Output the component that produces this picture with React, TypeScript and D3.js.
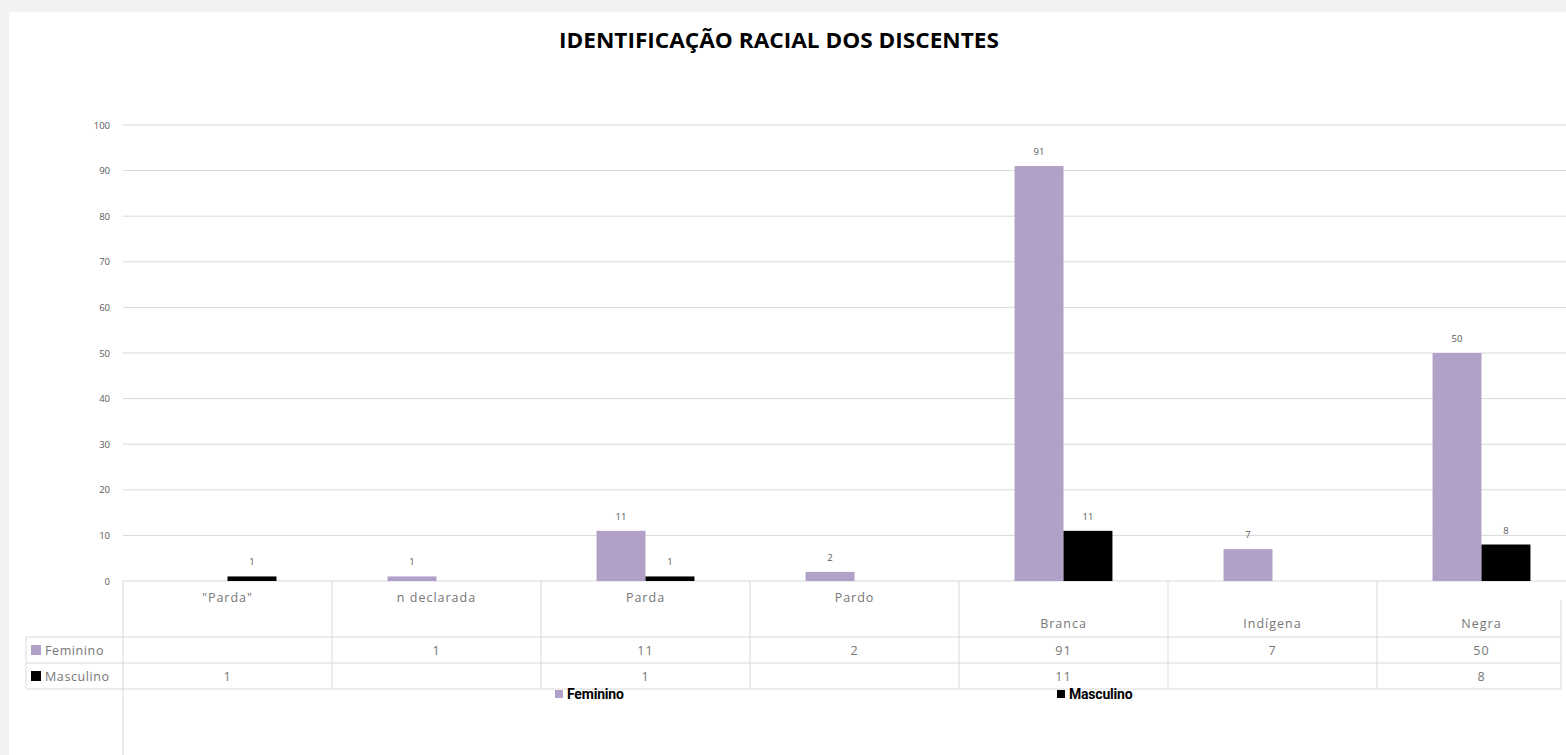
import React from "react";
import * as d3 from "d3";

const categories = ['"Parda"', "n declarada", "Parda", "Pardo", "Branca", "Indígena", "Negra"];
const labelLow = [false, false, false, false, true, true, true];
const seriesNames = ["Feminino", "Masculino"];
const feminino: (number | null)[] = [null, 1, 11, 2, 91, 7, 50];
const masculino: (number | null)[] = [1, null, 1, null, 11, null, 8];
const yTicks = [0, 10, 20, 30, 40, 50, 60, 70, 80, 90, 100];
const title = "IDENTIFICAÇÃO RACIAL DOS DISCENTES";

const colors = ["#b1a0c7", "#000000"];
const W = 1566, H = 755;
const x0 = 123, colW = 209;
const yTop = 125, yBase = 581;
const grid = "#d9d9d9";
const txt = "#595959";
const tableTxt = "#767676";
const font = "'Open Sans', 'DejaVu Sans', sans-serif";

export default function App() {
  const x = d3.scaleBand<string>().domain(categories).range([x0, x0 + colW * categories.length]).padding(0);
  const xs = d3.scaleBand<string>().domain(seriesNames).range([0, x.bandwidth()]).paddingInner(0).paddingOuter(1.135);
  const y = d3.scaleLinear().domain([0, 100]).range([yBase, yTop]);
  const series = [feminino, masculino];
  const rowTop = 637, rowH = 26;
  const tableLeft = 26, tableRight = 1561;

  return (
    <svg width={W} height={H} style={{ position: "absolute", left: 0, top: 0, background: "#f2f2f2" }}>
      <rect x={9} y={12} width={W - 9} height={H - 12} fill="#ffffff" />
      <text x={779} y={47.5} textAnchor="middle" fontFamily={font} fontWeight={700} fontSize={21} fill="#000" textLength={440} lengthAdjust="spacingAndGlyphs">{title}</text>
      {yTicks.map((t) => (
        <g key={t}>
          <line x1={x0} x2={W} y1={y(t)} y2={y(t)} stroke={grid} strokeWidth={1} />
          <text x={110} y={y(t) + 3.5} textAnchor="end" fontFamily={font} fontSize={9.5} fill={txt}>{t}</text>
        </g>
      ))}
      {series.map((vals, si) =>
        vals.map((v, ci) => {
          if (v == null) return null;
          const bx = (x(categories[ci]) as number) + (xs(seriesNames[si]) as number);
          return (
            <g key={`${si}-${ci}`}>
              <rect x={bx} y={y(v)} width={xs.bandwidth()} height={yBase - y(v)} fill={colors[si]} />
              <text x={bx + xs.bandwidth() / 2} y={y(v) - 11} textAnchor="middle" fontFamily={font} fontSize={9.5} fill={txt}>{v}</text>
            </g>
          );
        })
      )}
      <line x1={x0} x2={x0} y1={yBase} y2={H} stroke={grid} />
      {categories.map((c, i) => {
        const cx = (x(c) as number) + x.bandwidth() / 2;
        const right = (x(c) as number) + x.bandwidth();
        return (
          <g key={c}>
            {i < categories.length - 1 && <line x1={right} x2={right} y1={yBase} y2={rowTop + 2 * rowH} stroke={grid} />}
            <text x={cx} y={labelLow[i] ? 627.5 : 601.5} textAnchor="middle" fontFamily={font} fontSize={12.5} letterSpacing={1} fill={tableTxt}>{c}</text>
            {series.map((vals, si) =>
              vals[i] == null ? null : (
                <text key={si} x={cx} y={rowTop + si * rowH + 18} textAnchor="middle" fontFamily={font} fontSize={12.5} letterSpacing={1} fill={tableTxt}>{vals[i]}</text>
              )
            )}
          </g>
        );
      })}
      {[0, 1, 2].map((r) => (
        <line key={r} x1={tableLeft} x2={tableRight} y1={rowTop + r * rowH} y2={rowTop + r * rowH} stroke={grid} />
      ))}
      <line x1={tableLeft} x2={tableLeft} y1={rowTop} y2={rowTop + 2 * rowH} stroke={grid} />
      <line x1={tableRight} x2={tableRight} y1={600} y2={rowTop + 2 * rowH} stroke={grid} />
      {seriesNames.map((s, si) => (
        <g key={s}>
          <rect x={31} y={rowTop + si * rowH + 8} width={10} height={10} fill={colors[si]} />
          <text x={45} y={rowTop + si * rowH + 18} fontFamily={font} fontSize={12.5} letterSpacing={0.6} fill={tableTxt}>{s}</text>
        </g>
      ))}
      {seriesNames.map((s, si) => {
        const lx = si === 0 ? 555 : 1057;
        return (
          <g key={`lg-${s}`}>
            <rect x={lx} y={690} width={8} height={8} fill={colors[si]} />
            <text x={lx + 12} y={699} fontFamily="Roboto, 'Liberation Sans', sans-serif" fontWeight={700} fontSize={14} letterSpacing={-0.2} fill="#000">{s}</text>
          </g>
        );
      })}
    </svg>
  );
}
